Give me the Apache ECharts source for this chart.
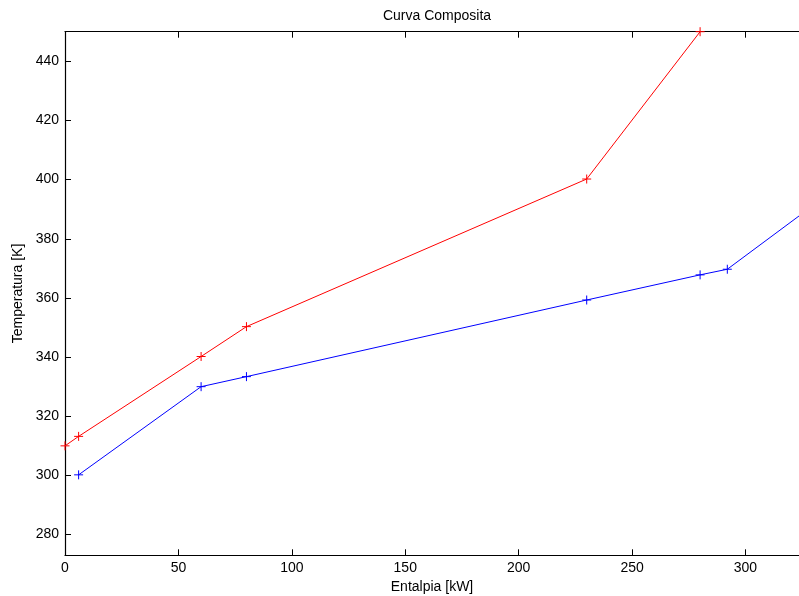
<!DOCTYPE html>
<html>
<head>
<meta charset="utf-8">
<script src="https://cdn.jsdelivr.net/npm/echarts@6/dist/echarts.min.js"></script>
<style>
  html, body { margin: 0; padding: 0; background: #fff; }
  #chart { width: 799px; height: 596px; }
</style>
</head>
<body>
<div id="chart"></div>
<script>
// Curva composita: hot (red) and cold (blue) composite curves
var hotH = [0, 6, 60, 80, 230, 280];
var hotT = [310, 313.2, 340.2, 350.3, 400.2, 450];
var coldH = [6, 60, 80, 230, 280, 292, 323.6];
var coldT = [300.2, 330, 333.4, 359.3, 367.8, 369.7, 387.7];
var yTicks = [280, 300, 320, 340, 360, 380, 400, 420, 440];

var plus = 'path://M5 0V10M0 5H10';
var font = 'Liberation Sans, Arial, Helvetica, sans-serif';

function pairs(xs, ys, lastNoSymbol) {
  return xs.map(function (x, i) {
    var d = { value: [x, ys[i]] };
    if (lastNoSymbol && i === xs.length - 1) d.symbol = 'none';
    return d;
  });
}

var myChart = echarts.init(document.getElementById('chart'));
myChart.setOption({
  animation: false,
  title: {
    text: 'Curva Composita',
    left: 432,
    textAlign: 'center',
    top: 4,
    textStyle: { fontFamily: font, fontSize: 14, fontWeight: 'normal', color: '#000' }
  },
  grid: { left: 65, right: 0, top: 31.7, bottom: 40.7, outerBoundsMode: 'none', containLabel: false },
  xAxis: [
    {
      type: 'value',
      min: 0,
      max: 323.6,
      interval: 50,
      name: 'Entalpia [kW]',
      nameLocation: 'middle',
      nameGap: 24,
      nameTextStyle: { fontFamily: font, fontSize: 14, color: '#000' },
      axisLine: { lineStyle: { color: '#000', width: 1.2 } },
      axisTick: { inside: true, length: 6, lineStyle: { color: '#000' } },
      axisLabel: { fontFamily: font, fontSize: 14, color: '#000', margin: 6, showMaxLabel: false },
      splitLine: { show: false }
    },
    {
      type: 'value',
      position: 'top',
      min: 0,
      max: 323.6,
      interval: 50,
      axisLine: { lineStyle: { color: '#000', width: 1.2 } },
      axisTick: { inside: true, length: 6, lineStyle: { color: '#000' } },
      axisLabel: { show: false },
      splitLine: { show: false }
    }
  ],
  yAxis: {
    type: 'value',
    min: 273,
    max: 450,
    name: 'Temperatura [K]',
    nameLocation: 'middle',
    nameGap: 40,
    nameTextStyle: { fontFamily: font, fontSize: 14, color: '#000' },
    axisLine: { show: true, lineStyle: { color: '#000', width: 1.2 } },
    axisTick: { inside: true, length: 6, customValues: yTicks, lineStyle: { color: '#000' } },
    axisLabel: { fontFamily: font, fontSize: 14, color: '#000', margin: 6, customValues: yTicks },
    splitLine: { show: false }
  },
  series: [
    {
      type: 'line',
      data: pairs(hotH, hotT, false),
      clip: false,
      symbol: plus,
      symbolSize: 9,
      lineStyle: { color: '#ff0000', width: 1 },
      itemStyle: { color: 'none', borderColor: '#ff0000', borderWidth: 1 }
    },
    {
      type: 'line',
      data: pairs(coldH, coldT, true),
      clip: false,
      symbol: plus,
      symbolSize: 9,
      lineStyle: { color: '#0000ff', width: 1 },
      itemStyle: { color: 'none', borderColor: '#0000ff', borderWidth: 1 }
    }
  ]
});
window.addEventListener('resize', function () {
  myChart.resize();
});
</script>
</body>
</html>
